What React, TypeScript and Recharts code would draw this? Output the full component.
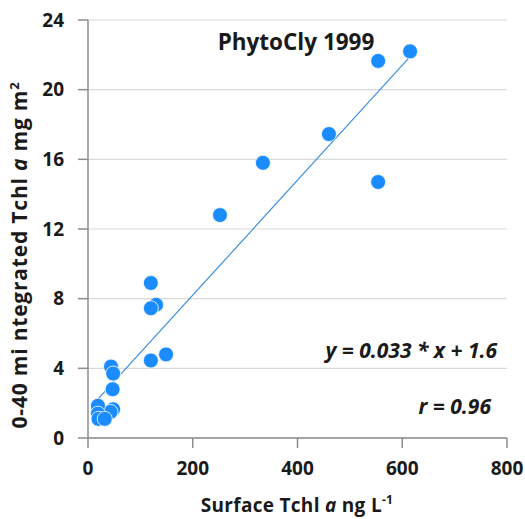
import React from "react";
import { ScatterChart, Scatter, XAxis, YAxis, CartesianGrid, ReferenceLine, Customized } from "recharts";

const surfaceTchl = [615, 554, 460, 334, 252, 554, 120, 130, 120, 149, 120, 44, 48, 47, 48, 43, 19, 19, 20, 32];
const integratedTchl = [22.2, 21.65, 17.45, 15.8, 12.8, 14.7, 8.9, 7.65, 7.45, 4.8, 4.45, 4.1, 3.7, 2.8, 1.65, 1.5, 1.85, 1.4, 1.1, 1.1];
const xTicks = [0, 200, 400, 600, 800];
const yTicks = [0, 4, 8, 12, 16, 20, 24];
const slope = 0.033;
const intercept = 1.6;
const fitRange = [19, 615];

const data = surfaceTchl.map((x, i) => ({ x, y: integratedTchl[i] }));

const FONT = "'Open Sans', sans-serif";
const BLUE = "#1a8cff";

const Dot = (props: any) => {
  const { cx, cy } = props;
  if (cx == null || cy == null) return null;
  return <circle cx={cx} cy={cy} r={7.5} fill={BLUE} stroke="#ffffff" strokeWidth={0.8} />;
};

const Annotations = () => (
  <g fontFamily={FONT} fontWeight="bold" fill="#1a1a1a">
    <text x={296} y={50} textAnchor="middle" fontSize={22.5}>PhytoCly 1999</text>
    <text x={497} y={358} textAnchor="end" fontSize={21} fontStyle="italic">y = 0.033 * x + 1.6</text>
    <text x={491} y={414} textAnchor="end" fontSize={21} fontStyle="italic">r = 0.96</text>
    <text x={297} y={512} textAnchor="middle" fontSize={19} letterSpacing={0.3}>
      Surface Tchl <tspan fontStyle="italic">a</tspan> ng L<tspan fontSize={12} dy={-8}>-1</tspan>
    </text>
    <text x={0} y={0} transform="translate(27,255) rotate(-90)" textAnchor="middle" fontSize={21} letterSpacing={0.8}>
      0-40 mi ntegrated Tchl <tspan fontStyle="italic">a</tspan> mg m<tspan fontSize={13} dy={-8}>2</tspan>
    </text>
  </g>
);

export default function App() {
  return (
    <div style={{ position: "absolute", left: 0, top: 0, width: 525, height: 519, background: "#fff" }}>
      <ScatterChart width={525} height={519} margin={{ top: 20, right: 18, bottom: 0, left: 0 }}>
        <CartesianGrid vertical={false} stroke="#d9d9d9" strokeWidth={1.2} />
        <XAxis
          type="number"
          dataKey="x"
          domain={[0, 800]}
          ticks={xTicks}
          height={81}
          tickSize={10}
          tickMargin={14}
          axisLine={{ stroke: "#8c8c8c", strokeWidth: 1.5 }}
          tickLine={{ stroke: "#8c8c8c", strokeWidth: 1.5 }}
          tick={{ fill: "#1a1a1a", fontSize: 19, fontWeight: "bold", fontFamily: FONT }}
          interval={0}
        />
        <YAxis
          type="number"
          dataKey="y"
          domain={[0, 24]}
          ticks={yTicks}
          width={88}
          tickSize={10}
          tickMargin={14}
          axisLine={{ stroke: "#8c8c8c", strokeWidth: 1.5 }}
          tickLine={{ stroke: "#8c8c8c", strokeWidth: 1.5 }}
          tick={{ fill: "#1a1a1a", fontSize: 19, fontWeight: "bold", fontFamily: FONT }}
          interval={0}
        />
        <ReferenceLine
          segment={[
            { x: fitRange[0], y: slope * fitRange[0] + intercept },
            { x: fitRange[1], y: slope * fitRange[1] + intercept },
          ]}
          stroke="#3a8fe0"
          strokeWidth={1.2}
        />
        <Scatter data={data} shape={<Dot />} isAnimationActive={false} />
        <Customized component={Annotations} />
      </ScatterChart>
    </div>
  );
}
